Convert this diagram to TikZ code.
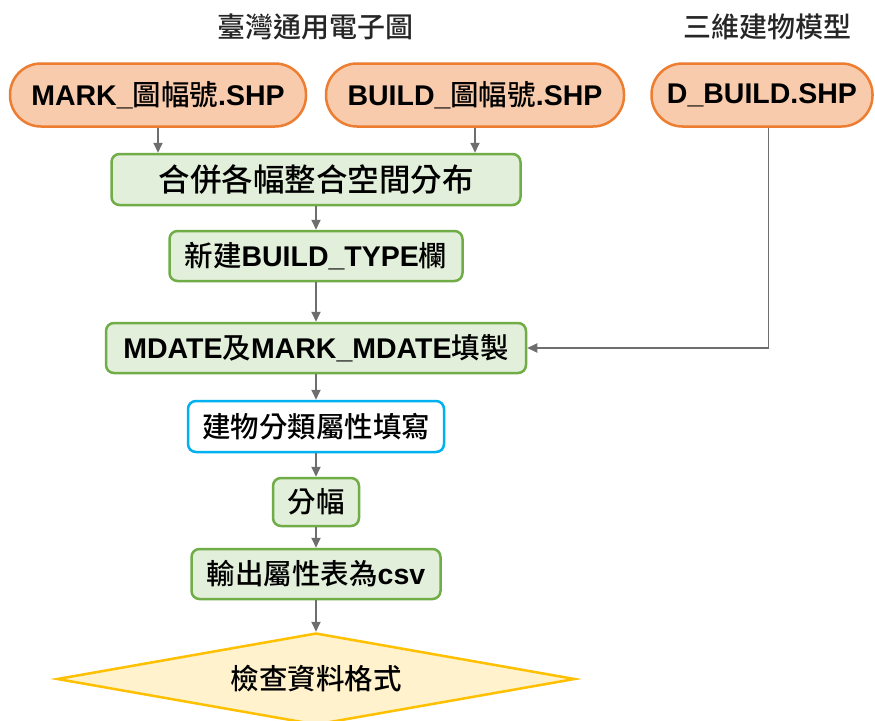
\documentclass[tikz,border=0pt]{standalone}
\usepackage{fontspec}
\setmainfont{Liberation Sans}
\newfontfamily\tcfont{Noto Sans CJK TC}[UprightFont=* Medium,BoldFont=* Medium]
\usetikzlibrary{arrows.meta,positioning,shapes.geometric}
\definecolor{Peach}{HTML}{F8CBAD}
\definecolor{Orange}{HTML}{ED7D31}
\definecolor{PaleGreen}{HTML}{E2EFDA}
\definecolor{Green}{HTML}{70AD47}
\definecolor{Sky}{HTML}{00B0F0}
\definecolor{PaleGold}{HTML}{FFF2CC}
\definecolor{Gold}{HTML}{FFC000}
\definecolor{Ink}{HTML}{262626}
\definecolor{Wire}{HTML}{6E6E6E}
\newcommand{\zh}[1]{{\tcfont #1}}

\begin{document}
\begin{tikzpicture}[x=1pt,y=-1pt,
  font=\fontsize{28.5}{32}\selectfont\bfseries,
  source/.style={draw=Orange,fill=Peach,line width=2.5pt,rounded corners=31pt,
    minimum height=63pt,inner sep=0pt},
  stepbox/.style={draw=Green,fill=PaleGreen,line width=2.5pt,rounded corners=8pt,
    minimum height=50pt,inner sep=0pt},
  flow/.style={-{Triangle[length=10pt,width=9pt]},Wire,line width=1.8pt}]

\clip (0,0) rectangle (875,720);
\fill[white] (0,0) rectangle (875,720);

% Source headings.
\node[font=\fontsize{28}{32}\selectfont,text=Ink] (twmap) at (315,27) {\zh{臺灣通用電子圖}};
\node[font=\fontsize{28}{32}\selectfont,text=Ink] (bim) at (767,27) {\zh{三維建物模型}};

% Input layers.
\node[source,minimum width=296pt] (mark) at (158,95) {MARK\_\zh{圖幅號}.SHP};
\node[source,minimum width=298pt] (build) at (475,95) {BUILD\_\zh{圖幅號}.SHP};
\node[source,minimum width=221pt] (dbuild) at (762,95) {D\_BUILD.SHP};

% Processing steps.
\node[stepbox,minimum width=409pt,minimum height=51pt,
  font=\fontsize{31.5}{34}\selectfont\bfseries] (merge) at (316,179.5)
  {\zh{合併各幅整合空間分布}};
\node[stepbox,minimum width=293pt] (newcol) at (316,256) {\zh{新建}BUILD\_TYPE\zh{欄}};
\node[stepbox,minimum width=420pt] (mdate) at (316,348) {MDATE\zh{及}MARK\_MDATE\zh{填製}};
\node[stepbox,draw=Sky,fill=white,minimum width=256pt,minimum height=51pt] (classify)
  at (316,426.5) {\zh{建物分類屬性填寫}};
\node[stepbox,minimum width=86pt,minimum height=48pt] (split) at (316,502) {\zh{分幅}};
\node[stepbox,minimum width=249pt] (export) at (316,574) {\zh{輸出屬性表為}csv};
\node[diamond,draw=Gold,fill=PaleGold,line width=2.5pt,aspect=5.6,inner sep=0pt,
  minimum width=518pt,minimum height=92pt] (check) at (316,679) {\zh{檢查資料格式}};

% Connectors.
\draw[flow] (mark.south) -- (mark.south |- merge.north);
\draw[flow] (build.south) -- (build.south |- merge.north);
\draw[flow] (merge.south) -- (newcol.north);
\draw[flow] (newcol.south) -- (mdate.north);
\draw[flow] ([xshift=6.5pt]dbuild.south) |- (mdate.east);
\draw[flow] (mdate.south) -- (classify.north);
\draw[flow] (classify.south) -- (split.north);
\draw[flow] (split.south) -- (export.north);
\draw[flow] (export.south) -- (check.north);
\end{tikzpicture}
\end{document}
